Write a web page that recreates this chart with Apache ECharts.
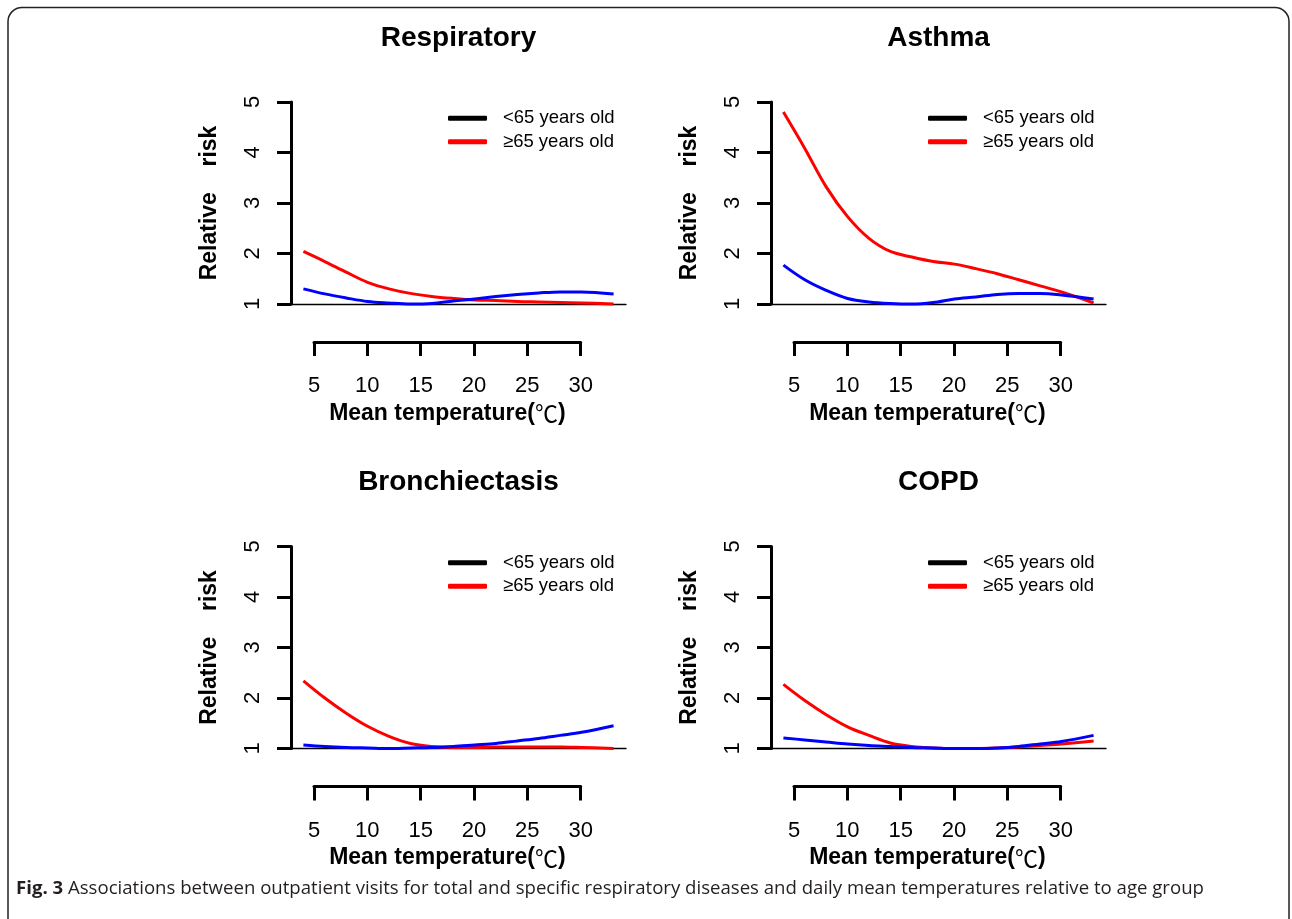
<!DOCTYPE html>
<html>
<head>
<meta charset="utf-8">
<script src="https://cdn.jsdelivr.net/npm/echarts@6/dist/echarts.min.js"></script>
<style>
html,body{margin:0;padding:0;background:#fff;}
#chart{width:1292px;height:919px;}
</style>
</head>
<body>
<div id="chart"></div>
<script>
// ---- data ----
const panelTitles = ['Respiratory', 'Asthma', 'Bronchiectasis', 'COPD'];
const seriesNames = ['<65 years old', '\u226565 years old'];
const xTicks = [5, 10, 15, 20, 25, 30];
const yTicks = [1, 2, 3, 4, 5];
const temps = [4, 6, 8, 10, 12, 14, 16, 18, 20, 22, 24, 26, 28, 30, 33];

const respOld   = [2.04, 1.84, 1.63, 1.43, 1.30, 1.21, 1.15, 1.11, 1.08, 1.07, 1.05, 1.04, 1.03, 1.02, 1.00];
const respYoung = [1.30, 1.20, 1.12, 1.05, 1.02, 1.00, 1.01, 1.06, 1.10, 1.15, 1.19, 1.22, 1.24, 1.24, 1.20];

const asthOld   = [4.80, 4.08, 3.32, 2.73, 2.30, 2.04, 1.93, 1.84, 1.79, 1.70, 1.60, 1.48, 1.36, 1.24, 1.02];
const asthYoung = [1.77, 1.48, 1.27, 1.11, 1.04, 1.01, 1.00, 1.03, 1.10, 1.14, 1.19, 1.21, 1.21, 1.18, 1.10];

const bronOld   = [2.34, 2.00, 1.70, 1.44, 1.24, 1.10, 1.04, 1.02, 1.02, 1.03, 1.03, 1.03, 1.03, 1.02, 1.00];
const bronYoung = [1.07, 1.04, 1.02, 1.01, 1.00, 1.01, 1.02, 1.04, 1.07, 1.10, 1.15, 1.20, 1.26, 1.32, 1.45];

const copdOld   = [2.27, 1.95, 1.67, 1.43, 1.26, 1.11, 1.04, 1.01, 1.00, 1.00, 1.01, 1.03, 1.06, 1.09, 1.15];
const copdYoung = [1.21, 1.17, 1.13, 1.09, 1.06, 1.04, 1.02, 1.01, 1.00, 1.00, 1.01, 1.04, 1.09, 1.14, 1.26];

const oldData = [respOld, asthOld, bronOld, copdOld];
const youngData = [respYoung, asthYoung, bronYoung, copdYoung];

// ---- layout ----
const FONT = '"Liberation Sans", Arial, "Noto Sans CJK SC", sans-serif';
const CJK = '"Noto Sans CJK SC", "DejaVu Sans", sans-serif';
const panelPos = [
  {l: 291, t: 102}, {l: 771, t: 102},
  {l: 291, t: 546.5}, {l: 771, t: 546.5}
];
const PW = 335, PH = 202;

const grids = [], xAxes = [], yAxes = [], series = [], titles = [], legends = [];

panelPos.forEach((p) => {
  grids.push({left: p.l, top: p.t, width: PW, height: PH});
});
panelPos.forEach((p) => {
  grids.push({left: p.l + 23, top: p.t + 239, width: 266.7, height: 1});
});

panelPos.forEach((p, i) => {
  xAxes.push({
    gridIndex: i, type: 'value', min: 2.84, max: 34.16,
    axisLine: {show: true, onZero: false, lineStyle: {color: '#000', width: 1.3}},
    axisTick: {show: false}, axisLabel: {show: false}, splitLine: {show: false}
  });
  yAxes.push({
    gridIndex: i, type: 'value', min: yTicks[0], max: yTicks[yTicks.length - 1], interval: 1,
    axisLine: {show: true, lineStyle: {color: '#000', width: 3}},
    axisTick: {show: true, length: 14, lineStyle: {color: '#000', width: 3}},
    axisLabel: {rotate: 90, margin: 27, fontSize: 22, color: '#000', fontFamily: FONT,
                align: 'center', verticalAlign: 'bottom'},
    splitLine: {show: false},
    name: 'Relative    risk', nameLocation: 'middle', nameGap: 70, nameRotate: 90,
    nameMoveOverlap: false,
    nameTextStyle: {fontWeight: 'bold', fontSize: 23, color: '#000', fontFamily: FONT}
  });
});
panelPos.forEach((p, i) => {
  xAxes.push({
    gridIndex: 4 + i, type: 'value', min: xTicks[0], max: xTicks[xTicks.length - 1], interval: 5,
    position: 'bottom',
    axisLine: {show: true, onZero: false, lineStyle: {color: '#000', width: 3}},
    axisTick: {show: true, length: 14, lineStyle: {color: '#000', width: 3}},
    axisLabel: {margin: 33, fontSize: 22, color: '#000', fontFamily: FONT},
    splitLine: {show: false},
    name: 'Mean temperature({c|\u2103})', nameLocation: 'middle', nameGap: 60,
    nameMoveOverlap: false,
    nameTextStyle: {fontWeight: 'bold', fontSize: 23, color: '#000', fontFamily: FONT,
      rich: {c: {fontWeight: 'normal', fontSize: 23, color: '#000', fontFamily: CJK}}}
  });
  yAxes.push({gridIndex: 4 + i, type: 'value', show: false, min: 0, max: 1});
});

panelPos.forEach((p, i) => {
  series.push({
    type: 'line', name: seriesNames[1], xAxisIndex: i, yAxisIndex: i,
    data: temps.map((t, k) => [t, oldData[i][k]]),
    smooth: 0.35, showSymbol: false, clip: false, silent: true,
    lineStyle: {color: '#ff0000', width: 3}, itemStyle: {color: '#ff0000'}
  });
  series.push({
    type: 'line', name: seriesNames[0], xAxisIndex: i, yAxisIndex: i,
    data: temps.map((t, k) => [t, youngData[i][k]]),
    smooth: 0.35, showSymbol: false, clip: false, silent: true,
    lineStyle: {color: '#0000ff', width: 3}, itemStyle: {color: '#0000ff'}
  });
  titles.push({
    text: panelTitles[i], left: p.l + PW / 2, top: p.t - 78, textAlign: 'center', padding: 0,
    textStyle: {fontSize: 28, fontWeight: 'bold', color: '#000', fontFamily: FONT}
  });
  legends.push({
    left: p.l + 157, top: p.t + 7, padding: 0, orient: 'vertical',
    itemWidth: 39, itemHeight: 5, itemGap: 5, icon: 'roundRect', selectedMode: false,
    textStyle: {fontSize: 18.5, color: '#000', fontFamily: FONT, lineHeight: 18, padding: [0, 0, 0, 11]},
    data: [
      {name: seriesNames[0], itemStyle: {color: '#000'}, lineStyle: {color: '#000'}},
      {name: seriesNames[1], itemStyle: {color: '#ff0000'}, lineStyle: {color: '#ff0000'}}
    ]
  });
});

const chart = echarts.init(document.getElementById('chart'), null, {renderer: 'canvas'});
chart.setOption({
  animation: false,
  backgroundColor: '#fff',
  title: titles,
  legend: legends,
  grid: grids,
  xAxis: xAxes,
  yAxis: yAxes,
  series: series,
  graphic: [
    {type: 'rect', shape: {x: 8, y: 7.5, width: 1281, height: 930, r: 14},
     style: {fill: 'none', stroke: '#222', lineWidth: 1.5}, silent: true},
    {type: 'text', x: 16, y: 889,
     style: {text: '{b|Fig. 3} Associations between outpatient visits for total and specific respiratory diseases and daily mean temperatures relative to age group',
             fontSize: 18.6, fontFamily: '"Open Sans", "Noto Sans", sans-serif', fill: '#231f20',
             verticalAlign: 'middle',
             rich: {b: {fontWeight: 'bold', fontSize: 18.6, fontFamily: '"Open Sans", "Noto Sans", sans-serif', fill: '#231f20'}}},
     silent: true}
  ]
});
</script>
</body>
</html>
